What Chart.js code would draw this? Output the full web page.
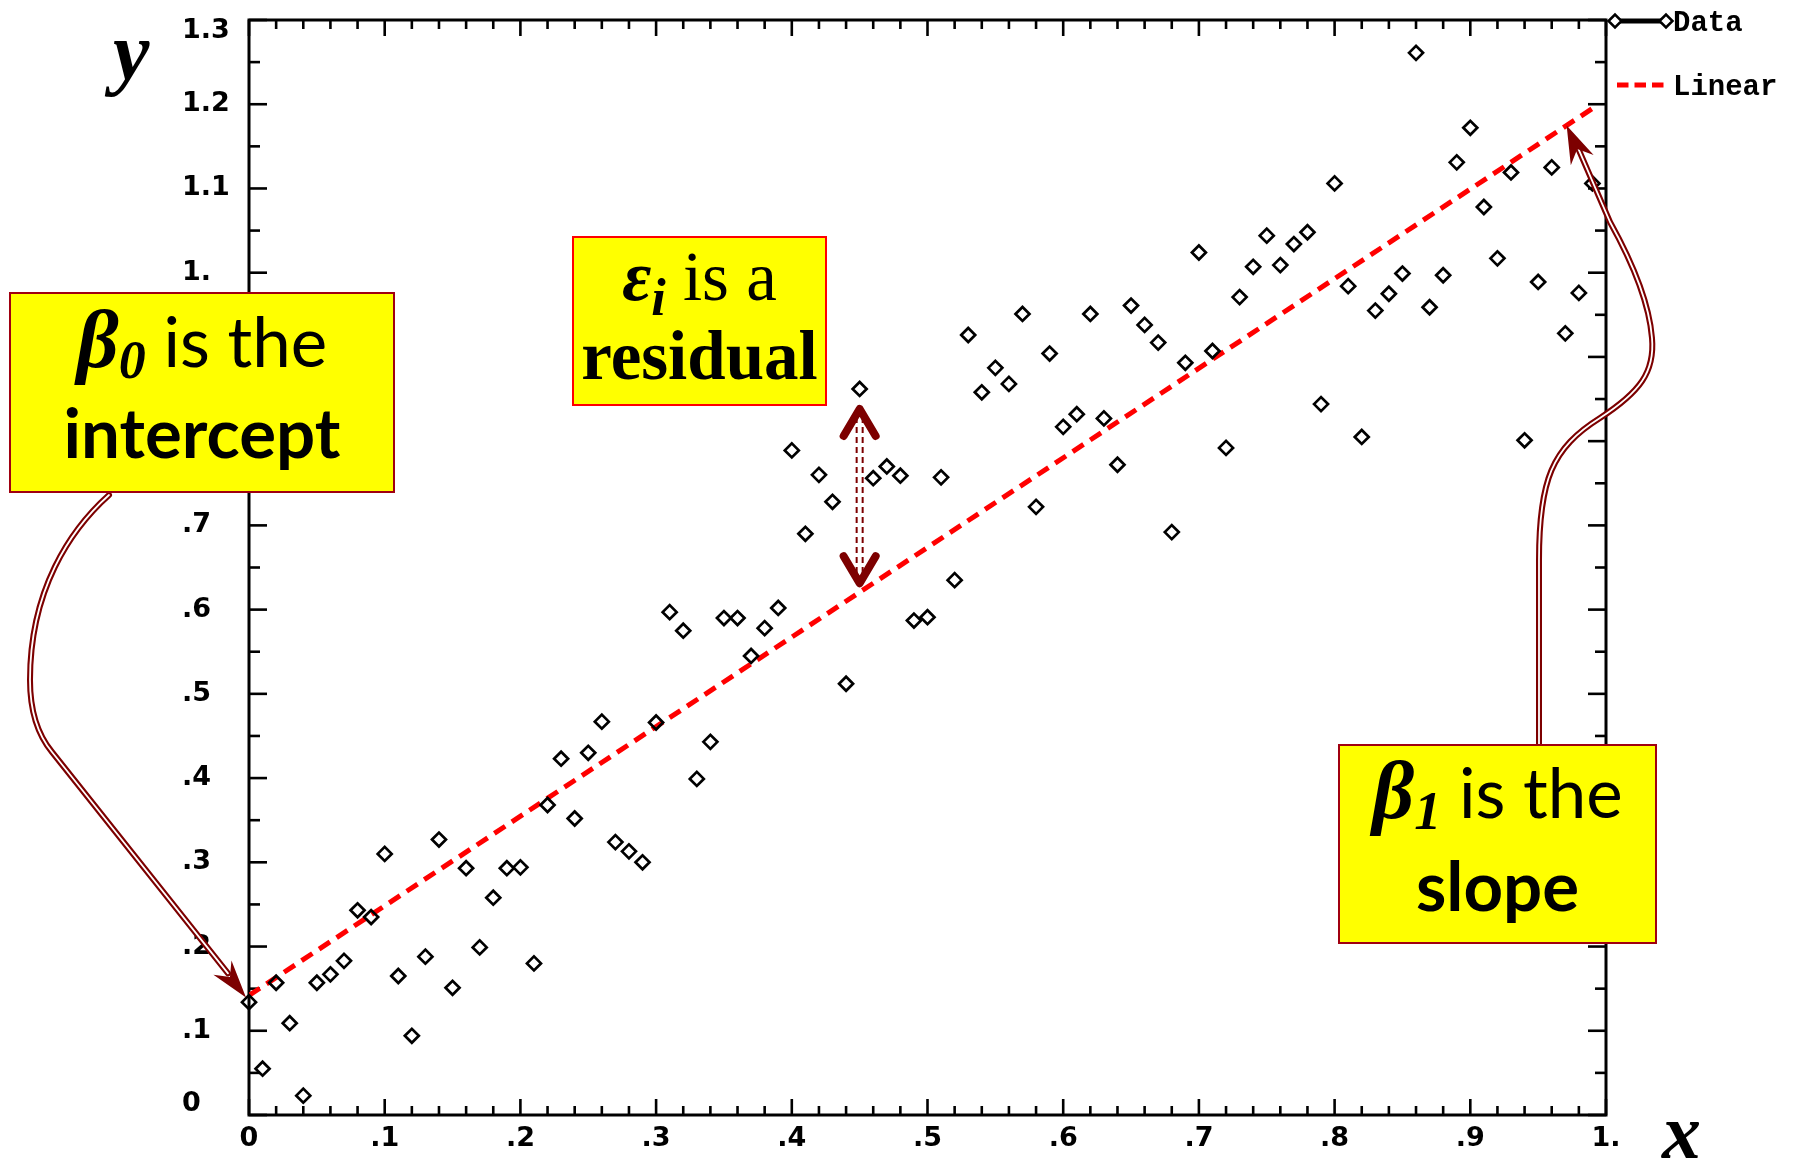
<!DOCTYPE html>
<html>
<head>
<meta charset="utf-8">
<script src="https://cdn.jsdelivr.net/npm/chart.js@4.4.1/dist/chart.umd.min.js"></script>
<style>
html,body{margin:0;padding:0;background:#fff;}
#wrap{position:relative;width:1797px;height:1161px;overflow:hidden;background:#fff;}
#c{position:absolute;left:0;top:0;}
.box{position:absolute;background:#ffff00;box-sizing:border-box;color:#000;}
.ln{position:absolute;left:0;width:100%;text-align:center;white-space:nowrap;line-height:1;}
.cal{font-family:Lato,"Open Sans",sans-serif;font-size:69px;}
.pal{font-family:"Liberation Serif",serif;font-size:69px;}
.gk{font-family:"Liberation Serif",serif;font-style:italic;font-weight:bold;line-height:0;}
.sb{position:relative;font-family:"Liberation Serif",serif;font-style:italic;font-weight:bold;line-height:0;}
.ax{position:absolute;font-family:"Liberation Serif",serif;font-style:italic;font-weight:bold;line-height:1;color:#000;}
</style>
</head>
<body>
<div id="wrap">
<canvas id="c" width="1797" height="1161"></canvas>

<div class="ax" style="left:113px;top:11px;font-size:82px;">y</div>
<div class="ax" style="left:1662px;top:1093px;font-size:78px;">x</div>

<div class="box" style="left:9px;top:292px;width:386px;height:201px;border:2px solid #a00010;">
  <div class="ln cal" style="top:12px;"><span class="gk" style="font-size:82px;">β</span><span class="sb" style="font-size:54px;top:11px;">0</span> is the</div>
  <div class="ln cal" style="top:103px;font-weight:bold;">intercept</div>
</div>

<div class="box" style="left:572px;top:236px;width:255px;height:170px;border:2.5px solid #ff0000;">
  <div class="ln pal" style="top:5px;"><span class="gk" style="font-size:71px;">ε</span><span class="sb" style="font-size:52px;top:15px;">i</span> is a</div>
  <div class="ln pal" style="top:84px;font-weight:bold;">residual</div>
</div>

<div class="box" style="left:1338px;top:744px;width:319px;height:200px;border:2px solid #a00010;">
  <div class="ln cal" style="top:11px;"><span class="gk" style="font-size:82px;">β</span><span class="sb" style="font-size:54px;top:11px;">1</span> is the</div>
  <div class="ln cal" style="top:104px;font-weight:bold;">slope</div>
</div>
</div>

<script>
// ---------------- data ----------------
const xValues = [
  0.00,0.01,0.02,0.03,0.04,0.05,0.06,0.07,0.08,0.09,
  0.10,0.11,0.12,0.13,0.14,0.15,0.16,0.17,0.18,0.19,
  0.20,0.21,0.22,0.23,0.24,0.25,0.26,0.27,0.28,0.29,
  0.30,0.31,0.32,0.33,0.34,0.35,0.36,0.37,0.38,0.39,
  0.40,0.41,0.42,0.43,0.44,0.45,0.46,0.47,0.48,0.49,
  0.50,0.51,0.52,0.53,0.54,0.55,0.56,0.57,0.58,0.59,
  0.60,0.61,0.62,0.63,0.64,0.65,0.66,0.67,0.68,0.69,
  0.70,0.71,0.72,0.73,0.74,0.75,0.76,0.77,0.78,0.79,
  0.80,0.81,0.82,0.83,0.84,0.85,0.86,0.87,0.88,0.89,
  0.90,0.91,0.92,0.93,0.94,0.95,0.96,0.97,0.98,0.99
];
const yValues = [
  0.134,0.055,0.157,0.109,0.023,0.157,0.167,0.183,0.243,0.235,
  0.310,0.165,0.094,0.188,0.327,0.151,0.293,0.199,0.258,0.293,
  0.294,0.180,0.368,0.423,0.352,0.430,0.467,0.324,0.313,0.300,
  0.466,0.597,0.575,0.399,0.443,0.590,0.590,0.545,0.578,0.602,
  0.789,0.690,0.760,0.728,0.512,0.862,0.756,0.770,0.759,0.587,
  0.591,0.757,0.635,0.926,0.858,0.887,0.868,0.951,0.722,0.904,
  0.817,0.832,0.951,0.827,0.772,0.961,0.938,0.917,0.692,0.893,
  1.024,0.907,0.792,0.971,1.007,1.044,1.009,1.034,1.048,0.844,
  1.106,0.984,0.805,0.955,0.975,0.999,1.261,0.959,0.997,1.131,
  1.172,1.078,1.017,1.119,0.801,0.989,1.125,0.928,0.976,1.106
];
const fitX = [0.00, 0.99];
const fitY = [0.142, 1.195];

const xTickValues = [0,0.1,0.2,0.3,0.4,0.5,0.6,0.7,0.8,0.9,1.0];
const xTickLabels = ['0','.1','.2','.3','.4','.5','.6','.7','.8','.9','1.'];
const yTickValues = [0,0.1,0.2,0.3,0.4,0.5,0.6,0.7,0.8,0.9,1.0,1.1,1.2,1.3];
const yTickLabels = ['0','.1','.2','.3','.4','.5','.6','.7','.8','.9','1.','1.1','1.2','1.3'];
const xMinorStep = 0.02;
const yMinorStep = 0.05;

const residualIndex = 45;      // point used for the residual arrow
const slopeArrowX = 0.971;     // where the slope arrow touches the fit line
const legendItems = ['Data', 'Linear'];

// ---------------- helpers ----------------
const DARK = '#7d0000';
function fitAt(v){ return fitY[0] + (fitY[1]-fitY[0])*(v-fitX[0])/(fitX[1]-fitX[0]); }

function doubleStroke(ctx, build){
  ctx.save();
  ctx.lineCap='round'; ctx.lineJoin='round';
  ctx.beginPath(); build(); ctx.strokeStyle=DARK; ctx.lineWidth=6; ctx.stroke();
  ctx.beginPath(); build(); ctx.strokeStyle='#ffffff'; ctx.lineWidth=1.8; ctx.stroke();
  ctx.restore();
}
function barbHead(ctx, tx, ty, ang, len, wid){
  ctx.save();
  ctx.translate(tx,ty); ctx.rotate(ang);
  ctx.beginPath();
  ctx.moveTo(0,0);
  ctx.lineTo(-len,-wid/2);
  ctx.lineTo(-len*0.68,0);
  ctx.lineTo(-len,wid/2);
  ctx.closePath();
  ctx.fillStyle=DARK; ctx.fill();
  ctx.restore();
}
function diamond(ctx,x,y,r,lw){
  ctx.beginPath();
  ctx.moveTo(x-r,y); ctx.lineTo(x,y-r); ctx.lineTo(x+r,y); ctx.lineTo(x,y+r); ctx.closePath();
  ctx.fillStyle='#fff'; ctx.fill();
  ctx.lineWidth=lw; ctx.strokeStyle='#000'; ctx.stroke();
}

const decor = {
  id:'decor',
  beforeDatasetsDraw(chart){
    const {ctx, chartArea:a, scales:{x,y}} = chart;
    ctx.save();
    ctx.strokeStyle='#000'; ctx.lineWidth=2.6; ctx.lineCap='butt';
    const nX = Math.round((x.max-x.min)/xMinorStep);
    for(let i=0;i<=nX;i++){
      const px = x.getPixelForValue(x.min+i*xMinorStep);
      const len = (i%5===0)?16:9;
      ctx.beginPath(); ctx.moveTo(px,a.bottom); ctx.lineTo(px,a.bottom-len); ctx.stroke();
      ctx.beginPath(); ctx.moveTo(px,a.top); ctx.lineTo(px,a.top+len); ctx.stroke();
    }
    const nY = Math.round((y.max-y.min)/yMinorStep);
    for(let i=0;i<=nY;i++){
      const py = y.getPixelForValue(y.min+i*yMinorStep);
      const len = (i%2===0)?18:11;
      ctx.beginPath(); ctx.moveTo(a.left,py); ctx.lineTo(a.left+len,py); ctx.stroke();
      ctx.beginPath(); ctx.moveTo(a.right,py); ctx.lineTo(a.right-len,py); ctx.stroke();
    }
    ctx.lineWidth=3;
    ctx.strokeRect(a.left,a.top,a.right-a.left,a.bottom-a.top);
    ctx.restore();
  },
  afterDatasetsDraw(chart){
    const {ctx, chartArea:a, scales:{x,y}} = chart;
    // --- intercept arrow ---
    const ix = x.getPixelForValue(fitX[0]) - 3, iy = y.getPixelForValue(fitY[0]) + 2;
    const s1 = {x:52,y:752};
    doubleStroke(ctx, ()=>{
      ctx.moveTo(109,495);
      ctx.bezierCurveTo(70,530,30,590,30,680);
      ctx.bezierCurveTo(30,712,38,735,s1.x,s1.y);
      ctx.lineTo(ix-18,iy-24);
    });
    barbHead(ctx, ix, iy, Math.atan2(iy-s1.y, ix-s1.x), 38, 23);

    // --- slope arrow ---
    const sx = x.getPixelForValue(slopeArrowX), sy = y.getPixelForValue(fitAt(slopeArrowX));
    const s2 = {x:1610,y:222};
    doubleStroke(ctx, ()=>{
      ctx.moveTo(1539,744);
      ctx.lineTo(1539,560);
      ctx.bezierCurveTo(1539,480,1552,448,1600,418);
      ctx.bezierCurveTo(1640,392,1655,372,1652,338);
      ctx.bezierCurveTo(1649,300,1630,258,s2.x,s2.y);
      ctx.lineTo(sx+12,sy+24);
    });
    barbHead(ctx, sx, sy, Math.atan2(sy-s2.y, sx-s2.x), 38, 25);

    // --- residual arrow ---
    const rx = x.getPixelForValue(xValues[residualIndex]);
    const rTop = y.getPixelForValue(yValues[residualIndex]) + 18;
    const rBot = y.getPixelForValue(fitAt(xValues[residualIndex])) - 7;
    ctx.save();
    ctx.strokeStyle=DARK; ctx.lineWidth=2; ctx.setLineDash([6,4]);
    [-3,3].forEach(dx=>{ctx.beginPath(); ctx.moveTo(rx+dx,rTop+10); ctx.lineTo(rx+dx,rBot-10); ctx.stroke();});
    ctx.setLineDash([]);
    ctx.lineWidth=8; ctx.lineCap='round'; ctx.lineJoin='round';
    ctx.beginPath(); ctx.moveTo(rx-16,rTop+29); ctx.lineTo(rx,rTop+2); ctx.lineTo(rx+16,rTop+29); ctx.stroke();
    ctx.beginPath(); ctx.moveTo(rx-16,rBot-29); ctx.lineTo(rx,rBot-2); ctx.lineTo(rx+16,rBot-29); ctx.stroke();
    ctx.restore();
  },
  afterDraw(chart){
    const {ctx, chartArea:a} = chart;
    ctx.save();
    // legend: Data
    const ly1 = a.top + 1;
    ctx.strokeStyle='#000'; ctx.lineWidth=5;
    ctx.beginPath(); ctx.moveTo(a.right+8,ly1); ctx.lineTo(a.right+60,ly1); ctx.stroke();
    diamond(ctx,a.right+9,ly1,6.5,2.5);
    diamond(ctx,a.right+60,ly1,6.5,2.5);
    ctx.fillStyle='#000';
    ctx.font='bold 29px "Liberation Mono", monospace';
    ctx.textBaseline='alphabetic'; ctx.textAlign='left';
    ctx.fillText(legendItems[0], a.right+67, ly1+10);
    // legend: Linear
    const ly2 = a.top + 65;
    ctx.strokeStyle='#ff0000'; ctx.lineWidth=5; ctx.setLineDash([11.5,6]);
    ctx.beginPath(); ctx.moveTo(a.right+11,ly2); ctx.lineTo(a.right+58,ly2); ctx.stroke();
    ctx.setLineDash([]);
    ctx.fillText(legendItems[1], a.right+67, ly2+10);
    ctx.restore();
  }
};

const xTickFont = {family:'"DejaVu Sans", sans-serif', weight:'bold', size:27};
const yTickFont = {family:'"DejaVu Sans", sans-serif', weight:'bold', size:27, lineHeight:0.85};

new Chart(document.getElementById('c'), {
  type:'scatter',
  data:{
    datasets:[
      {
        label:'Data',
        data: xValues.map((v,i)=>({x:v,y:yValues[i]})),
        pointStyle:'rectRot',
        pointRadius:7,
        pointHoverRadius:7,
        pointBorderWidth:2.7,
        pointBorderColor:'#000',
        pointBackgroundColor:'rgba(255,255,255,0)',
        showLine:false,
        clip:false,
        order:1
      },
      {
        label:'Linear',
        data: fitX.map((v,i)=>({x:v,y:fitY[i]})),
        showLine:true,
        borderColor:'#ff0000',
        borderWidth:5,
        borderDash:[13,8],
        pointRadius:0,
        fill:false,
        order:2
      }
    ]
  },
  options:{
    responsive:false,
    animation:false,
    devicePixelRatio:1,
    layout:{padding:{left:182,right:191,top:20,bottom:0}},
    plugins:{legend:{display:false},tooltip:{enabled:false}},
    events:[],
    scales:{
      x:{
        type:'linear', position:'bottom', min:0, max:1,
        grid:{display:false, drawTicks:false},
        border:{display:false},
        afterBuildTicks(s){ s.ticks = xTickValues.map(v=>({value:v})); },
        afterFit(s){ s.height = 46; s.paddingLeft = 0; s.paddingRight = 0; },
        ticks:{
          font:xTickFont, color:'#000', padding:8, maxRotation:0, autoSkip:false,
          callback:(v,i)=>xTickLabels[i]
        }
      },
      y:{
        type:'linear', position:'left', min:0, max:1.3,
        grid:{display:false, drawTicks:false},
        border:{display:false},
        afterBuildTicks(s){ s.ticks = yTickValues.map(v=>({value:v})); },
        afterFit(s){ s.width = 67; s.paddingTop = 0; s.paddingBottom = 0; },
        ticks:{
          font:yTickFont, color:'#000', padding:0, crossAlign:'far', autoSkip:false,
          callback:(v,i)=>{
            const t = yTickLabels[i];
            if(i===0) return [t,''];
            if(i===yTickLabels.length-1) return ['',t];
            return t;
          }
        }
      }
    }
  },
  plugins:[decor]
});
</script>
</body>
</html>
